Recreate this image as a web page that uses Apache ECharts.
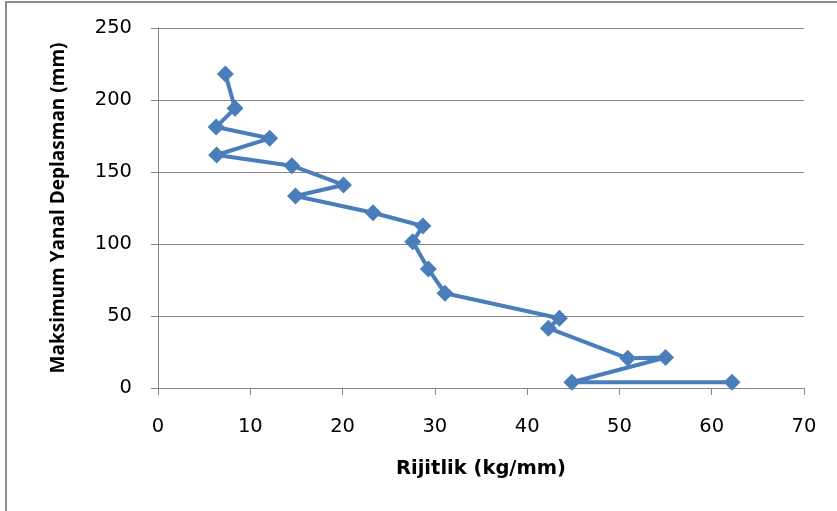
<!DOCTYPE html>
<html>
<head>
<meta charset="utf-8">
<script src="https://cdn.jsdelivr.net/npm/echarts@6/dist/echarts.min.js"></script>
<style>
  html, body { margin: 0; padding: 0; background: #fff; }
  #chart { width: 837px; height: 511px; }
</style>
</head>
<body>
<div id="chart"></div>
<script>
// Stiffness (kg/mm) against maximum lateral displacement (mm), in drawing order
const rijitlik = [7.3, 8.35, 6.3, 12.1, 6.35, 14.5, 20.1, 14.9, 23.3, 28.7, 27.6, 29.3, 31.1, 43.5, 42.3, 50.9, 55.0, 44.85, 62.2];
const deplasman = [218.1, 194.2, 181.3, 173.4, 161.8, 154.4, 141.0, 133.3, 121.7, 112.5, 101.6, 82.6, 65.8, 48.4, 41.5, 20.6, 21.2, 4.0, 4.0];

const xTitle = 'Rijitlik (kg/mm)';
const yTitle = 'Maksimum Yanal Deplasman (mm)';

const points = rijitlik.map((x, i) => [x, deplasman[i]]);

const wideFont = '"DejaVu Sans", Verdana, sans-serif';
const titleFont = '"Open Sans", "DejaVu Sans", sans-serif';
const gridColor = '#868686';

const chart = echarts.init(document.getElementById('chart'), null, { renderer: 'canvas' });
chart.setOption({
  animation: false,
  backgroundColor: '#ffffff',
  graphic: [{
    type: 'rect',
    shape: { x: 6, y: 2, width: 900, height: 600 },
    style: { fill: 'none', stroke: '#8c8c8c', lineWidth: 2 },
    silent: true
  }],
  grid: { left: 158, right: 33, top: 28, bottom: 123, containLabel: false },
  xAxis: {
    type: 'value',
    min: 0, max: 70, interval: 10,
    name: xTitle,
    nameLocation: 'middle',
    nameGap: 71,
    nameTextStyle: { fontFamily: wideFont, fontSize: 19.5, fontWeight: 'bold', color: '#000' },
    axisLine: { show: true, onZero: false, lineStyle: { color: gridColor, width: 1 } },
    axisTick: { show: true, inside: false, length: 7, lineStyle: { color: gridColor } },
    axisLabel: { fontFamily: wideFont, fontSize: 19.5, color: '#000', margin: 29 },
    splitLine: { show: false }
  },
  yAxis: {
    type: 'value',
    min: 0, max: 250, interval: 50,
    name: yTitle,
    nameLocation: 'middle',
    nameGap: 90,
    nameRotate: 90,
    nameTextStyle: { fontFamily: titleFont, fontSize: 19, fontWeight: 'bold', color: '#000' },
    axisLine: { show: true, lineStyle: { color: gridColor, width: 1 } },
    axisTick: { show: true, inside: false, length: 7, lineStyle: { color: gridColor } },
    axisLabel: { fontFamily: wideFont, fontSize: 19.5, color: '#000', margin: 26 },
    splitLine: { show: true, lineStyle: { color: gridColor, width: 1 } }
  },
  series: [{
    type: 'line',
    data: points,
    symbol: 'diamond',
    symbolSize: 17,
    showAllSymbol: true,
    lineStyle: { color: '#4A7EBB', width: 4 },
    itemStyle: { color: '#4A7EBB', borderWidth: 0 },
    z: 3
  }]
});
</script>
</body>
</html>
